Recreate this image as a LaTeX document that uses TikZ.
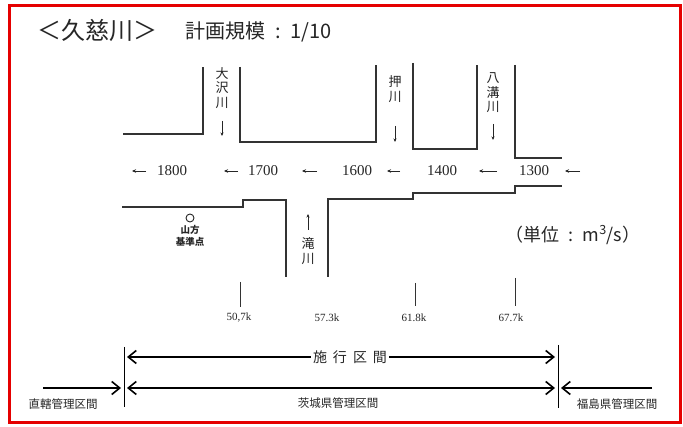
\documentclass[tikz,border=0pt]{standalone}
\usepackage{fontspec}
\setmainfont{Liberation Serif}
\newfontfamily\jp{Noto Sans CJK JP}
\usetikzlibrary{arrows.meta}
\tikzset{barbtip/.tip={Straight Barb[length=8pt,width=13pt,line width=1.6pt]}}
\begin{document}
\begin{tikzpicture}[x=1pt,y=-1pt,
  bank/.style={line width=1.4pt, draw=black!80},
  flowarrow/.style={line width=0.8pt, draw=black!85, -{Stealth[length=4pt,width=3.5pt]}},
  tribarrow/.style={line width=0.6pt, draw=black!85, -{Stealth[length=3.5pt,width=3pt]}},
  num/.style={font=\fontsize{15}{15}\selectfont, inner sep=0pt, text=black!85},
  km/.style={font=\fontsize{11}{11}\selectfont, inner sep=0pt, text=black!85},
  vlab/.style={font=\jp\fontsize{13}{14.5}\selectfont, align=center, inner sep=0pt, text=black!85},
  tick/.style={line width=0.6pt, draw=black!80},
  sect/.style={line width=1.8pt, draw=black},
  seclab/.style={font=\jp\fontsize{11.5}{12}\selectfont, inner sep=0pt, text=black!85}
]
\useasboundingbox (0,0) rectangle (683,427);
\fill[white] (0,0) rectangle (683,427);
\draw[red!90!black, line width=3pt] (9,6) rectangle (680,423);

% title
\node[anchor=west, inner sep=0pt, font=\jp\fontsize{24}{24}\selectfont, text=black!85] (title) at (37,30) {＜久慈川＞};
\node[anchor=west, inner sep=0pt, font=\jp\fontsize{20}{20}\selectfont, text=black!85] (plan) at (185,32) {計画規模\enspace:\enspace1/10};

% upper bank
\draw[bank] (123,134) -- (203,134) -- (203,67);
\draw[bank] (240,67) -- (240,142) -- (376,142) -- (376,65);
\draw[bank] (413,63) -- (413,149) -- (477,149) -- (477,65);
\draw[bank] (515,65) -- (515,158) -- (562,158);
% lower bank
\draw[bank] (122,207) -- (243,207) -- (243,200) -- (286,200) -- (286,277);
\draw[bank] (328,277) -- (328,199) -- (413,199) -- (413,193) -- (515,193) -- (515,186) -- (562,186);

% tributaries
\node[vlab] (osawa) at (222,88) {大\\沢\\川};
\coordinate (osawaA) at (222,121); \coordinate (osawaB) at (222,136);
\draw[tribarrow] (osawaA) -- (osawaB);
\node[vlab] (oshi) at (395,89) {押\\川};
\coordinate (oshiA) at (395,126); \coordinate (oshiB) at (395,142);
\draw[tribarrow] (oshiA) -- (oshiB);
\node[vlab] (yamizo) at (493,93) {八\\溝\\川};
\coordinate (yamA) at (493,124); \coordinate (yamB) at (493,140);
\draw[tribarrow] (yamA) -- (yamB);
\node[vlab] (taki) at (308,251) {滝\\川};
\coordinate (takiA) at (308,230); \coordinate (takiB) at (308,214);
\draw[tribarrow] (takiA) -- (takiB);

% flows
\foreach \a/\b/\n in {146/132/f1,238/224/f2,317/302/f3,400/387/f4,497/479/f5,580/565/f6}{
  \coordinate (\n a) at (\a,171); \coordinate (\n b) at (\b,171);
  \draw[flowarrow] (\n a) -- (\n b);
}
\node[num] (q1800) at (172,171) {1800};
\node[num] (q1700) at (263,171) {1700};
\node[num] (q1600) at (357,171) {1600};
\node[num] (q1400) at (442,171) {1400};
\node[num] (q1300) at (534,171) {1300};

% reference point
\draw[line width=0.9pt, black!85] (190,218) circle [radius=4pt];
\node[font=\jp\bfseries\fontsize{9.5}{11.5}\selectfont, align=center, inner sep=0pt, text=black!85] (yamagata) at (190,236) {山方\\基準点};

% unit
\node[font=\jp\fontsize{18}{18}\selectfont, inner sep=0pt, text=black!85] (unit) at (573,235) {（単位\enspace:\enspace m\textsuperscript{3}/s）};

% km ticks
\draw[tick] (240,282) -- (240,307);
\draw[tick] (415,283) -- (415,306);
\draw[tick] (515,278) -- (515,306);
\node[km] (k1) at (239,318) {50,7k};
\node[km] (k2) at (327,318) {57.3k};
\node[km] (k3) at (414,318) {61.8k};
\node[km] (k4) at (511,318) {67.7k};

% sections
\coordinate (Lt) at (124,347); \coordinate (Lb) at (124,407);
\coordinate (Rt) at (558,345); \coordinate (Rb) at (558,408);
\draw[line width=0.8pt] (Lt) -- (Lb);
\draw[line width=0.8pt] (Rt) -- (Rb);
\coordinate (s1) at (127,357); \coordinate (s2) at (555,357);
\draw[sect, barbtip-barbtip] (s1) -- (s2);
\node[fill=white, inner xsep=2pt, inner ysep=1pt, font=\jp\fontsize{14}{14}\selectfont, text=black!85] (shiko) at (350,357) {施\hspace{6pt}行\hspace{6pt}区\hspace{6pt}間};
\coordinate (i1) at (127,388); \coordinate (i2) at (555,388);
\draw[sect, barbtip-barbtip] (i1) -- (i2);
\coordinate (c1) at (43,388); \coordinate (c2) at (121,388);
\draw[sect, -barbtip] (c1) -- (c2);
\coordinate (g1) at (652,388); \coordinate (g2) at (561,388);
\draw[sect, -barbtip] (g1) -- (g2);
\node[seclab] (chokkatsu) at (63,404) {直轄管理区間};
\node[seclab] (ibaraki) at (338,403) {茨城県管理区間};
\node[seclab] (fukushima) at (617,404) {福島県管理区間};
\end{tikzpicture}
\end{document}
